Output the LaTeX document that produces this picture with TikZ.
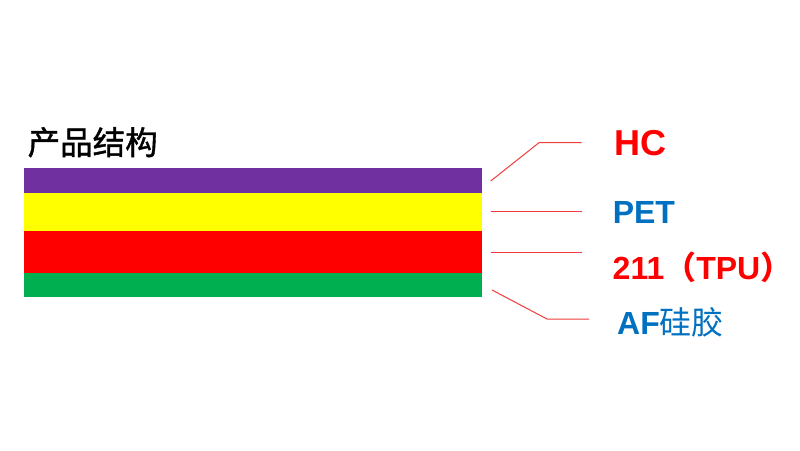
\documentclass[tikz,border=0pt]{standalone}
\usepackage{fontspec}
\setmainfont{Liberation Sans}
\newfontfamily\cjk{Noto Sans CJK SC}
\newfontfamily\cjkt[FakeBold=1.2]{Noto Sans CJK SC}
\definecolor{lpurple}{HTML}{7030A0}
\definecolor{lyellow}{HTML}{FFFF00}
\definecolor{lred}{HTML}{FF0000}
\definecolor{lgreen}{HTML}{00B050}
\definecolor{lblue}{HTML}{0070C0}
\definecolor{lline}{HTML}{F03C3C}
\begin{document}
\begin{tikzpicture}[x=1pt,y=-1pt,
  lbl/.style={anchor=base west, inner sep=0pt, font=\fontsize{32}{36}\selectfont\bfseries},
  leader/.style={draw=lline, line width=1pt}]
\useasboundingbox[fill=white] (0,0) rectangle (800,450);
% layers
\fill[lpurple] (24.3,168.3) rectangle (482.3,192.7);
\fill[lyellow] (24.3,192.7) rectangle (482.3,231);
\fill[lred] (24.3,231) rectangle (482.3,273.3);
\fill[lgreen] (24.3,273.3) rectangle (482.3,297.3);
\coordinate (hcS) at (490.7,181);
\coordinate (hcB) at (539,142.7);
\coordinate (hcE) at (581.7,142.7);
\coordinate (petS) at (490.7,211.7);
\coordinate (petE) at (581.7,211.7);
\coordinate (tpuS) at (490.7,252.7);
\coordinate (tpuE) at (581.7,252.7);
\coordinate (afS) at (492,290);
\coordinate (afB) at (547,319);
\coordinate (afE) at (589,319);
% title
\node[anchor=base west, inner sep=0pt] (title) at (27.5,154.5) {\fontsize{32.5}{36}\selectfont\cjkt 产品结构};
% labels
\node[lbl, text=lred, font=\fontsize{36}{40}\selectfont\bfseries] (hc) at (614.4,155) {HC};
\node[lbl, text=lblue] (pet) at (612.6,223.7) {PET};
\node[lbl, text=lred] (tpu) at (612.5,279.3) {211{\cjk （}TPU{\cjk ）}};
\node[lbl, text=lblue] (af) at (617,334.3) {AF{\mdseries\cjk 硅胶}};
% leaders
\draw[leader] (hcS) -- (hcB) -- (hcE);
\draw[leader] (petS) -- (petE);
\draw[leader] (tpuS) -- (tpuE);
\draw[leader] (afS) -- (afB) -- (afE);
\end{tikzpicture}
\end{document}
